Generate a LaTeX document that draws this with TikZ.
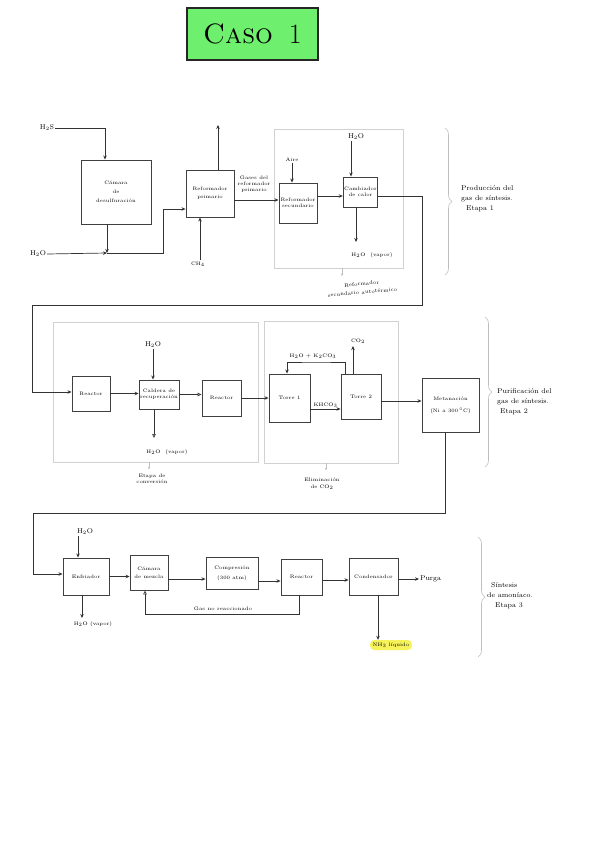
\documentclass[tikz,border=0pt]{standalone}
\usepackage{tikz}
\usetikzlibrary{arrows.meta, positioning, calc, decorations.pathreplacing}

\definecolor{verde}{HTML}{6EF06E}
\definecolor{resalte}{HTML}{F5F25A}

\tikzset{
    unit/.style={draw=black!75, line width=0.9pt, align=center, font=\tiny, inner sep=1pt},
    box/.style 2 args={unit, minimum width=#1, minimum height=#2},
    zone/.style={draw=black!18, line width=0.8pt, inner sep=0pt},
    flow/.style={draw=black!80, line width=0.7pt, -{Stealth[length=4pt, width=3.5pt]}},
    openflow/.style={draw=black!80, line width=0.7pt, -{Triangle[open, length=4pt, width=3.5pt]}},
    note/.style={draw=black!25, line width=0.5pt, -{Stealth[length=2.5pt, width=2.5pt]}},
    stage/.style={draw=black!25, line width=0.6pt, decorate, decoration={brace, amplitude=7pt}},
    lbl/.style={font=\tiny, align=center, inner sep=1pt},
    stream/.style={font=\scriptsize, align=left, inner sep=1pt},
}

\begin{document}
\begin{tikzpicture}[x=1pt, y=-1pt]
        \useasboundingbox (0,0) rectangle (599,848);

        \node[
            draw=black!85,
            line width=1.3pt,
            fill=verde,
            minimum width=131pt,
            minimum height=52pt
        ] (titulo) at (252.5,34) {\fontsize{28}{30}\selectfont\textsc{Caso}\hspace{16pt}1};

        % Etapa 1
        \node[box={70pt}{64pt}] (desulf) at (116,192) {C\'amara\\[3pt]de\\[3pt]desulfuraci\'on};
        \node[box={48pt}{47pt}] (refprim) at (210,193.5) {Reformador\\[2pt]primario};
        \node[zone, minimum width=129pt, minimum height=139pt] (autot) at (338.5,198.5) {};
        \node[box={38pt}{40pt}] (refsec) at (298,203) {Reformador\\secundario};
        \node[box={33pt}{30pt}] (cambio) at (360.5,192) {Cambiador\\de calor};

        \node[stream] (h2s) at (47,128) {H$_2$S};
        \node[stream] (h2oa) at (38,254) {H$_2$O};
        \node[lbl] (ch4) at (198,264) {CH$_4$};
        \node[lbl] (gases) at (254,184) {Gases del\\reformador\\primario};
        \node[lbl] (aire) at (292,160) {Aire};
        \node[stream] (h2ob) at (356,137) {H$_2$O};
        \node[lbl] (vapa) at (372,255) {H$_2$O\quad(vapor)};
        \node[lbl, rotate=5] (autolbl) at (362,288) {Reformador\\[2.5pt]secundario autot\'ermico};

        \coordinate (mix) at (107,253);
        \coordinate (codo) at (163,253);
        \coordinate (venteo) at (218,125);
        \coordinate (h2s-in) at ([xshift=-11pt]desulf.north);
        \coordinate (ch4-in) at ([xshift=-10pt]refprim.south);
        \coordinate (gas-out) at ([yshift=-6.5pt]refprim.east);
        \coordinate (aire-in) at ([xshift=-6pt]refsec.north);
        \coordinate (cal-in) at ([yshift=-4pt]cambio.west);
        \coordinate (agua-in) at ([xshift=-9.5pt]cambio.north);
        \coordinate (vap-out) at ([xshift=-4.5pt]cambio.south);
        \coordinate (vap-end) at (356,242);
        \coordinate (auto-out) at ([xshift=3.5pt]autot.south);
        \coordinate (auto-end) at (342,276);

        \draw[flow] (h2s.east) -| (h2s-in);
        \draw[flow] ([xshift=-9pt]desulf.south) -- (mix);
        \draw[flow] (h2oa.east) -- (mix);
        \draw[flow] (mix) -- (codo) |- ([yshift=-15.5pt]refprim.west);
        \draw[flow] ([xshift=8pt]refprim.north) -- (venteo);
        \draw[flow] (ch4-in |- ch4.north) -- (ch4-in);
        \draw[flow] (gas-out) -- (gas-out -| refsec.west);
        \draw[flow] (aire-in |- aire.south) -- (aire-in);
        \draw[flow] (refsec.east |- cal-in) -- (cal-in);
        \draw[flow] (agua-in |- h2ob.south) -- (agua-in);
        \draw[flow] (vap-out) -- (vap-end);
        \draw[note] (auto-out) -- (auto-end);

        \draw[stage] (445,128) -- (445,275);
        \node[stream, anchor=west] (etapa1) at (460,199) {Producci\'on del\\[2pt]gas de s\'intesis.\\[2pt]\hspace{5pt}Etapa 1};

        % Etapa 2
        \node[zone, minimum width=205pt, minimum height=140pt] (conv) at (155.5,392) {};
        \node[zone, minimum width=134pt, minimum height=142pt] (elim) at (331,392) {};
        \node[box={38pt}{35pt}] (reactorA) at (91,393.5) {Reactor};
        \node[box={40pt}{29pt}] (caldera) at (159,394.5) {Caldera de\\recuperaci\'on};
        \node[box={39pt}{36pt}] (reactorB) at (221.5,398) {Reactor};
        \node[box={41pt}{48pt}] (torre1) at (289.5,398) {Torre 1};
        \node[box={40pt}{45pt}] (torre2) at (361,396.5) {Torre 2};
        \node[box={57pt}{54pt}] (metan) at (450.5,405) {Metanaci\'on\\[6pt](Ni a 300\,$^\circ$C)};

        \node[stream] (h2oc) at (153,345) {H$_2$O};
        \node[lbl] (vapb) at (167,452) {H$_2$O\quad(vapor)};
        \node[lbl] (sal) at (313,356) {H$_2$O + K$_2$CO$_3$};
        \node[lbl] (co2) at (358,341) {CO$_2$};
        \node[lbl] (conv-lbl) at (152,479) {Etapa de\\conversi\'on};
        \node[lbl] (elim-lbl) at (322,484) {Eliminaci\'on\\de CO$_2$};

        \coordinate (retorno) at (422,305);
        \coordinate (bajada) at (32,392);
        \coordinate (agua2) at ([xshift=-6pt]caldera.north);
        \coordinate (vapb-end) at (154,438);
        \coordinate (kh-out) at ([yshift=-11pt]torre1.east);
        \coordinate (lazo) at (316,362);
        \coordinate (co2-end) at (353,346);
        \coordinate (gas-lim) at ([yshift=-4.5pt]torre2.east);

        \draw[flow] ([yshift=-4pt]cambio.east) -| (retorno) -| (bajada) -- (bajada -| reactorA.west);
        \draw[flow] (reactorA.east) -- (reactorA.east -| caldera.west);
        \draw[flow] (agua2 |- h2oc.south) -- (agua2);
        \draw[openflow] ([xshift=-5pt]caldera.south) -- (vapb-end);
        \draw[openflow] (caldera.east) -- (caldera.east -| reactorB.west);
        \draw[flow] (reactorB.east) -- (torre1.west);
        \draw[flow] (kh-out) -- node[lbl, above] (khco3) {KHCO$_3$} (kh-out -| torre2.west);
        \draw[flow] ([xshift=-16pt]torre2.north) |- (lazo) -| ([xshift=-2.5pt]torre1.north);
        \draw[flow] ([xshift=-8pt]torre2.north) -- (co2-end);
        \draw[flow] (gas-lim) -- (gas-lim -| metan.west);
        \draw[note] ([xshift=-6.5pt]conv.south) -- ++(0,7);
        \draw[note] ([xshift=-5pt]elim.south) -- ++(0,7);

        \draw[stage] (485,317) -- (485,467);
        \node[stream, anchor=west] (etapa2) at (496,402) {Purificaci\'on del\\[2pt]gas de s\'intesis.\\[2pt]\hspace{3pt}Etapa 2};

        % Etapa 3
        \node[box={46pt}{37pt}] (enfri) at (86,576.5) {Enfriador};
        \node[box={38pt}{35pt}] (mezcla) at (149,572.5) {C\'amara\\[2pt]de mezcla};
        \node[box={52pt}{32pt}] (compre) at (232,573) {Compresi\'on\\[4pt](300 atm)};
        \node[box={41pt}{36pt}] (reactorC) at (301.5,577) {Reactor};
        \node[box={49pt}{37pt}] (conden) at (373.5,576.5) {Condensador};

        \node[stream] (h2od) at (85,532) {H$_2$O};
        \node[lbl] (vapc) at (93,624) {H$_2$O (vapor)};
        \node[stream, anchor=west] (purga) at (419,579) {Purga};
        \node[lbl, fill=resalte, rounded corners=4pt, inner sep=2.5pt] (nh3) at (391,645) {NH$_3$ l\'iquido};
        \node[lbl] (gasno) at (223,609) {Gas no reaccionado};

        \coordinate (m-codo) at (33,513);
        \coordinate (agua3) at ([xshift=-8pt]enfri.north);
        \coordinate (vapc-end) at (82,618);
        \coordinate (mz-out) at ([yshift=-6.5pt]mezcla.east);
        \coordinate (cp-out) at ([yshift=-8pt]compre.east);
        \coordinate (rc-out) at ([yshift=-3pt]reactorC.east);
        \coordinate (cd-out) at ([yshift=-2.5pt]conden.east);
        \coordinate (nh3-out) at ([xshift=4.5pt]conden.south);
        \coordinate (reciclo) at (145,614);

        \draw[flow] ([xshift=-5.5pt]metan.south) |- (m-codo) |- ([yshift=2.5pt]enfri.west);
        \draw[flow] (agua3 |- h2od.south) -- (agua3);
        \draw[flow] ([xshift=-4pt]enfri.south) -- (vapc-end);
        \draw[flow] (enfri.east) -- (enfri.east -| mezcla.west);
        \draw[flow] (mz-out) -- (mz-out -| compre.west);
        \draw[flow] (cp-out) -- (cp-out -| reactorC.west);
        \draw[flow] (rc-out) -- (rc-out -| conden.west);
        \draw[flow] (cd-out) -- (purga.west);
        \draw[flow] (nh3-out) -- (nh3-out |- nh3.north);
        \draw[openflow] ([xshift=-2.5pt]reactorC.south) |- (reciclo) -- ([xshift=-4pt]mezcla.south);

        \draw[stage] (478,537) -- (478,657);
        \node[stream, anchor=west] (etapa3) at (486,596) {\hspace{4pt}S\'intesis\\[2pt]de amon\'iaco.\\[2pt]\hspace{8pt}Etapa 3};
\end{tikzpicture}
\end{document}
